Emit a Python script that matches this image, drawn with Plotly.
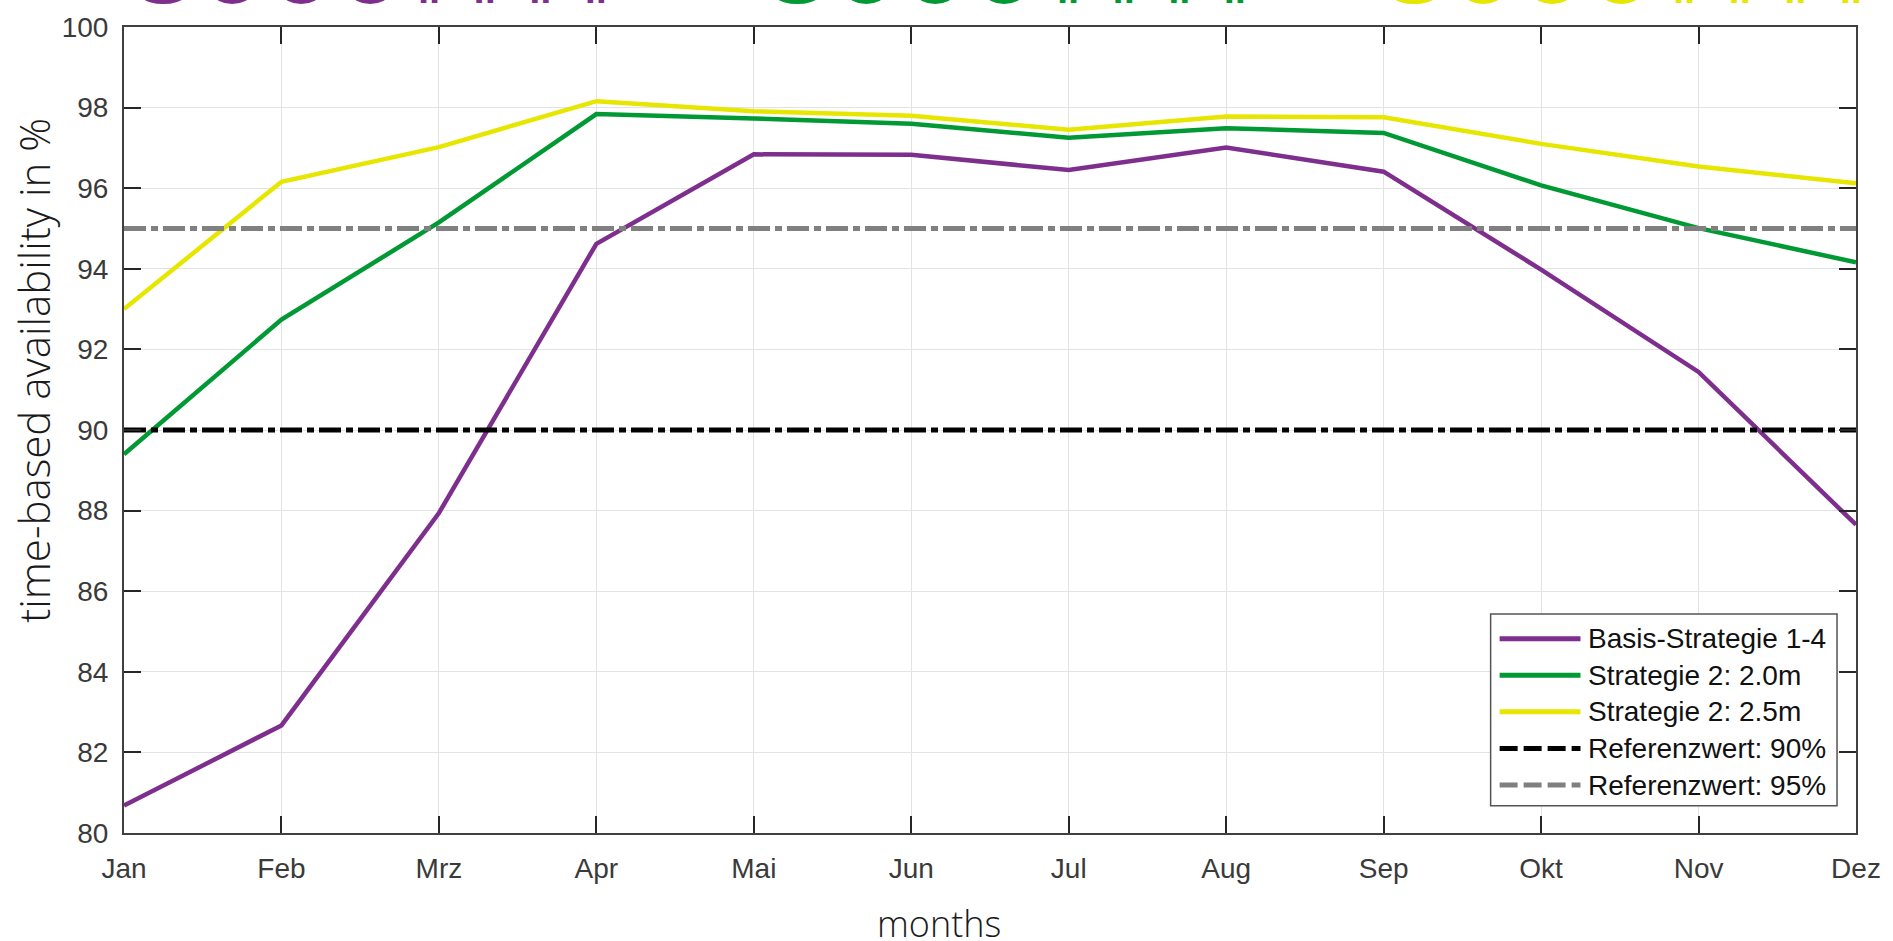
import plotly.graph_objects as go

# Monthly time-based availability (%) per strategy
months = ["Jan", "Feb", "Mrz", "Apr", "Mai", "Jun", "Jul", "Aug", "Sep", "Okt", "Nov", "Dez"]
basis_1_4 = [80.68, 82.67, 87.94, 94.62, 96.84, 96.83, 96.45, 97.01, 96.41, 93.98, 91.44, 87.65]
strat2_2_0m = [89.40, 92.74, 95.15, 97.84, 97.73, 97.60, 97.25, 97.49, 97.37, 96.07, 95.01, 94.16]
strat2_2_5m = [93.00, 96.16, 97.02, 98.16, 97.91, 97.80, 97.45, 97.78, 97.76, 97.10, 96.54, 96.12]

# Reference thresholds
ref_levels = [90, 95]
ref_names = ["Referenzwert: 90%", "Referenzwert: 95%"]

series_names = ["Basis-Strategie 1-4", "Strategie 2: 2.0m", "Strategie 2: 2.5m"]
series_colors = ["#7E2F8E", "#009933", "#E6E600"]
ref_colors = ["#000000", "#808080"]

y_ticks = list(range(80, 101, 2))

x = list(range(1, len(months) + 1))
DASHDOT = "22px,5px,7px,5px"

fig = go.Figure()
legend_items = []  # (name, color, dash, width)
for name, vals, col in zip(series_names, [basis_1_4, strat2_2_0m, strat2_2_5m], series_colors):
    fig.add_trace(go.Scatter(x=x, y=vals, mode="lines", name=name,
                             line=dict(color=col, width=4.5)))
    legend_items.append((name, col, "solid", 5))
for name, lvl, col in zip(ref_names, ref_levels, ref_colors):
    fig.add_trace(go.Scatter(x=x, y=[lvl] * len(x), mode="lines", name=name,
                             line=dict(color=col, width=5, dash=DASHDOT)))
    legend_items.append((name, col, "18px,6px", 5))

axis_common = dict(
    showline=True, linecolor="#404040", linewidth=2, mirror="allticks",
    ticks="inside", ticklen=17, tickwidth=1.5, tickcolor="#262626",
    showgrid=True, gridcolor="#e3e3e3", gridwidth=1, zeroline=False,
    tickfont=dict(family="Liberation Sans, Arial, sans-serif", size=28, color="#3a3a3a"),
)

fig.update_xaxes(range=[1, 12], tickvals=x, ticktext=months, ticklabelstandoff=9, **axis_common)
fig.update_yaxes(range=[80, 100], tickvals=y_ticks, ticklabelstandoff=8, **axis_common)

PLOT_L, PLOT_R, PLOT_T, PLOT_B = 124, 1859, 18.5, 833.5
W = PLOT_R - PLOT_L
H = PLOT_B - PLOT_T


def px_x(px):
    return (px - PLOT_L) / W


def px_y(py):
    return (PLOT_B - py) / H


title_font = dict(family="Open Sans, sans-serif", size=36, color="#1a1a1a", weight=300)
annotations = [
    dict(text="months", xref="paper", yref="paper", x=px_x(940), y=px_y(925),
         xanchor="center", yanchor="middle", showarrow=False, font=title_font),
    dict(text="time-based availability in %", xref="paper", yref="paper",
         x=px_x(34), y=px_y(366), xanchor="center", yanchor="middle",
         textangle=-90, showarrow=False, font=dict(title_font, size=42)),
]
shapes = []

# Legend box drawn in pixel-aligned paper coordinates
LEG_L, LEG_R, LEG_T, LEG_B = 1493, 1840, 612, 806
ROW0, ROW_STEP = 637, 37
shapes.append(dict(type="rect", xref="paper", yref="paper",
                   x0=px_x(LEG_L), x1=px_x(LEG_R), y0=px_y(LEG_B), y1=px_y(LEG_T),
                   line=dict(color="#555555", width=1.5), fillcolor="white", layer="above"))
for i, (name, col, dash, lw) in enumerate(legend_items):
    ry = ROW0 + i * ROW_STEP
    shapes.append(dict(type="line", xref="paper", yref="paper",
                       x0=px_x(1502), x1=px_x(1583), y0=px_y(ry), y1=px_y(ry),
                       line=dict(color=col, width=lw, dash=dash), layer="above"))
    annotations.append(dict(text=name, xref="paper", yref="paper", x=px_x(1589), y=px_y(ry),
                            xanchor="left", yanchor="middle", showarrow=False,
                            font=dict(family="Liberation Sans, Arial, sans-serif", size=28,
                                      color="#111111")))

# Large coloured labels running off the top edge
banner_starts = [127, 762, 1380]
dot_starts = [417, 1057, 1674]
for col, xs, xd in zip(series_colors, banner_starts, dot_starts):
    annotations.append(dict(text="3000", xref="paper", yref="paper", x=px_x(xs), y=1,
                            xanchor="left", yanchor="bottom", yshift=-4, showarrow=False,
                            font=dict(family="Liberation Sans", size=124, color=col, weight="bold")))
    annotations.append(dict(text="ıı   ıı   ıı   ıı", xref="paper", yref="paper", x=px_x(xd), y=1,
                            xanchor="left", yanchor="bottom", yshift=14, showarrow=False,
                            font=dict(family="Liberation Sans", size=40, color=col, weight="bold")))

fig.update_layout(
    width=1893, height=941,
    margin=dict(l=PLOT_L, r=1893 - PLOT_R, t=PLOT_T, b=941 - PLOT_B),
    paper_bgcolor="white", plot_bgcolor="white",
    showlegend=False,
    annotations=annotations,
    shapes=shapes,
)

fig.write_html("out.html")
